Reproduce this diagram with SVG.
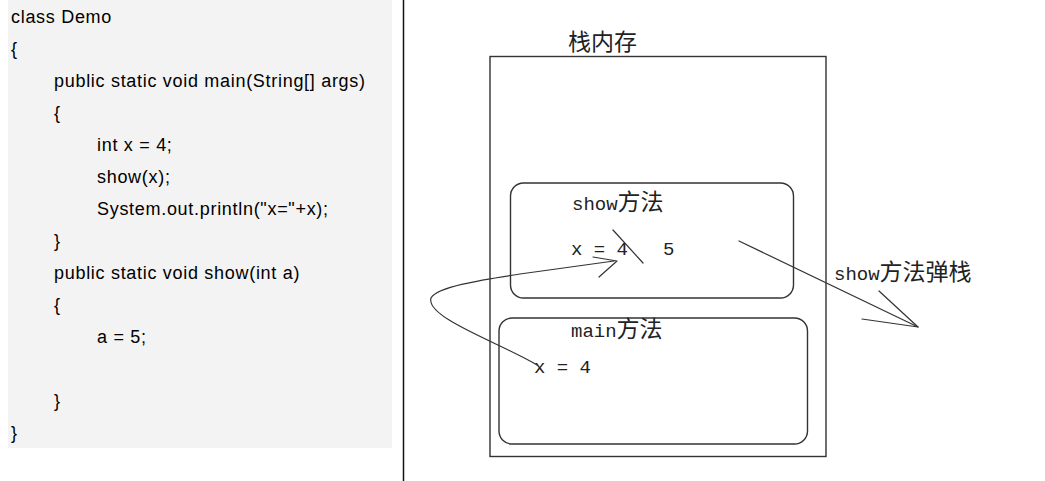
<svg xmlns="http://www.w3.org/2000/svg" width="1045" height="481" viewBox="0 0 1045 481">
<style>
.code{font-family:"Liberation Sans",Arial,sans-serif;font-size:18px;letter-spacing:0.7px;fill:#000}
.lbl{font-family:"Liberation Mono","Noto Sans CJK SC",monospace;font-size:19px;fill:#222}
.cjk{font-family:"Noto Sans CJK SC",sans-serif;font-size:23px}
.box{fill:none;stroke:#333;stroke-width:1.4}
.ln{fill:none;stroke:#333;stroke-width:1.2;stroke-linecap:round;stroke-linejoin:round}
</style>
<rect x="0" y="0" width="1045" height="481" fill="#fff"/>
<g id="code">
<rect x="8" y="0" width="384" height="448" fill="#f3f3f3"/>
<text class="code" x="11" y="23">class Demo</text>
<text class="code" x="11" y="55">{</text>
<text class="code" x="54" y="87">public static void main(String[] args)</text>
<text class="code" x="54" y="119">{</text>
<text class="code" x="97" y="151">int x = 4;</text>
<text class="code" x="97" y="183">show(x);</text>
<text class="code" x="97" y="215">System.out.println("x="+x);</text>
<text class="code" x="54" y="247">}</text>
<text class="code" x="54" y="279">public static void show(int a)</text>
<text class="code" x="54" y="311">{</text>
<text class="code" x="97" y="343">a = 5;</text>
<text class="code" x="54" y="407">}</text>
<text class="code" x="11" y="439">}</text>
</g>
<line id="divider" x1="403.5" y1="0" x2="403.5" y2="481" stroke="#111" stroke-width="1.5"/>
<g id="stack">
<rect class="box" x="490" y="56.5" width="336" height="400"/>
<text class="cjk" x="568" y="50" fill="#222">栈内存</text>
</g>
<g id="show-frame">
<rect class="box" x="510.5" y="183" width="283" height="115" rx="13"/>
<text class="lbl" x="572" y="210">show<tspan class="cjk">方法</tspan></text>
<text class="lbl" x="571" y="255">x = 4</text>
<text class="lbl" x="663" y="255">5</text>
<line class="ln" x1="613" y1="230" x2="643" y2="263"/>
</g>
<g id="main-frame">
<rect class="box" x="499" y="318" width="308.5" height="126" rx="13"/>
<text class="lbl" x="571" y="337">main<tspan class="cjk">方法</tspan></text>
<text class="lbl" x="534" y="373">x = 4</text>
</g>
<g id="pop-label">
<text class="lbl" x="834" y="280">show<tspan class="cjk">方法弹栈</tspan></text>
</g>
<g id="connectors">
<path class="ln" d="M537 365 C505 345 425 318 431 298 C437 287 480 280 520 274 L614 261"/>
<path class="ln" d="M593 257 L617 261 L599 277"/>
<path class="ln" d="M739 241 L918 327"/>
<path class="ln" d="M879 291 L918 327 L862 319"/>
</g>
</svg>
